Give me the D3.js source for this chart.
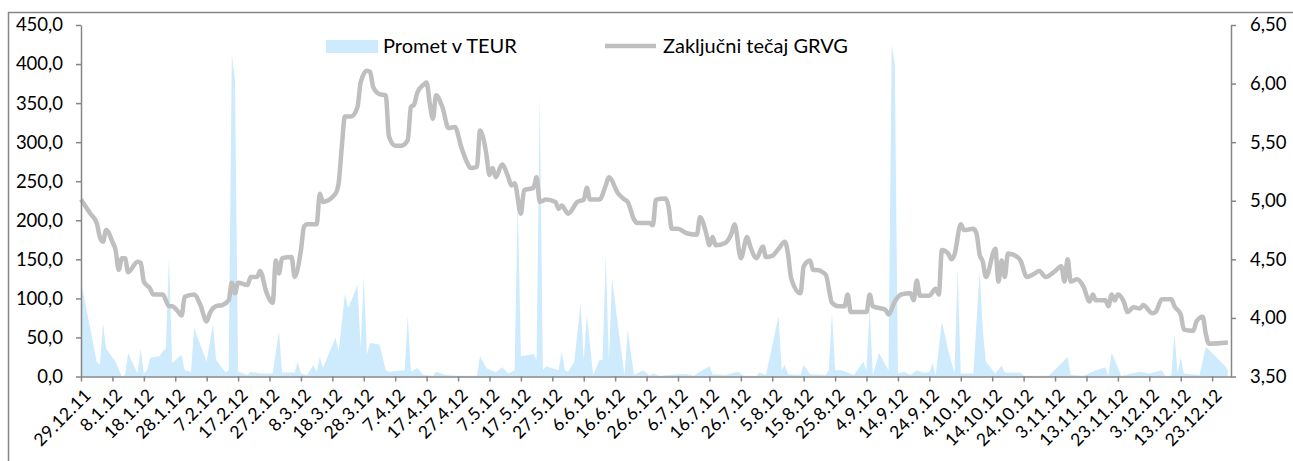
<!DOCTYPE html>
<html lang="en">
<head>
    <meta charset="UTF-8">
    <title>GRVG</title>
    <script src="https://d3js.org/d3.v7.min.js"></script>
    <style>
        body { margin: 0; background: #fff; }
        text { font-family: Lato, "Open Sans", sans-serif; fill: #000; }
    </style>
</head>
<body>
<div id="chart"></div>
<script>
    // closing price (right axis)
    var tecajDates = [
        "2011-12-29","2012-01-01","2012-01-03","2012-01-04","2012-01-05","2012-01-06","2012-01-08","2012-01-09",
        "2012-01-10","2012-01-11","2012-01-12","2012-01-13","2012-01-16","2012-01-17","2012-01-18","2012-01-20",
        "2012-01-21","2012-01-24","2012-01-26","2012-01-27","2012-01-29","2012-01-30","2012-01-31","2012-02-03",
        "2012-02-05","2012-02-07","2012-02-08","2012-02-10","2012-02-12","2012-02-14","2012-02-15","2012-02-16",
        "2012-02-17","2012-02-20","2012-02-21","2012-02-23","2012-02-24","2012-02-26","2012-02-28","2012-02-29",
        "2012-03-01","2012-03-02","2012-03-05","2012-03-06","2012-03-08","2012-03-09","2012-03-10","2012-03-13",
        "2012-03-14","2012-03-15","2012-03-19","2012-03-20","2012-03-21","2012-03-22","2012-03-24","2012-03-26",
        "2012-03-27","2012-03-29","2012-03-30","2012-03-31","2012-04-02","2012-04-04","2012-04-05","2012-04-07",
        "2012-04-09","2012-04-11","2012-04-12","2012-04-13","2012-04-14","2012-04-16","2012-04-17","2012-04-18",
        "2012-04-19","2012-04-20","2012-04-22","2012-04-24","2012-04-26","2012-04-28","2012-04-30","2012-05-01",
        "2012-05-03","2012-05-04","2012-05-06","2012-05-07","2012-05-08","2012-05-09","2012-05-11","2012-05-13",
        "2012-05-14","2012-05-15","2012-05-17","2012-05-18","2012-05-21","2012-05-22","2012-05-23","2012-05-25",
        "2012-05-28","2012-05-29","2012-05-30","2012-06-01","2012-06-04","2012-06-06","2012-06-07","2012-06-08",
        "2012-06-11","2012-06-13","2012-06-14","2012-06-17","2012-06-19","2012-06-20","2012-06-22","2012-06-23",
        "2012-06-27","2012-06-28","2012-06-29","2012-07-02","2012-07-03","2012-07-04","2012-07-06","2012-07-09",
        "2012-07-12","2012-07-13","2012-07-15","2012-07-16","2012-07-17","2012-07-18","2012-07-21","2012-07-23",
        "2012-07-24","2012-07-26","2012-07-28","2012-07-29","2012-07-31","2012-08-02","2012-08-03","2012-08-05",
        "2012-08-07","2012-08-09","2012-08-10","2012-08-11","2012-08-14","2012-08-15","2012-08-17","2012-08-18",
        "2012-08-19","2012-08-22","2012-08-24","2012-08-26","2012-08-28","2012-08-29","2012-08-30","2012-09-04",
        "2012-09-05","2012-09-06","2012-09-10","2012-09-11","2012-09-13","2012-09-15","2012-09-18","2012-09-19",
        "2012-09-20","2012-09-21","2012-09-24","2012-09-26","2012-09-27","2012-09-28","2012-09-30","2012-10-01",
        "2012-10-02","2012-10-04","2012-10-05","2012-10-08","2012-10-09","2012-10-10","2012-10-11","2012-10-12",
        "2012-10-15","2012-10-16","2012-10-17","2012-10-18","2012-10-19","2012-10-22","2012-10-23","2012-10-25",
        "2012-10-27","2012-10-29","2012-10-31","2012-11-03","2012-11-05","2012-11-06","2012-11-07","2012-11-08",
        "2012-11-10","2012-11-12","2012-11-14","2012-11-15","2012-11-16","2012-11-19","2012-11-20","2012-11-21",
        "2012-11-22","2012-11-23","2012-11-25","2012-11-26","2012-11-28","2012-11-30","2012-12-01","2012-12-04",
        "2012-12-05","2012-12-07","2012-12-10","2012-12-11","2012-12-13","2012-12-14","2012-12-17","2012-12-18",
        "2012-12-20","2012-12-21","2012-12-22","2012-12-28"
    ];
    var tecajValues = [
        5.01,4.89,4.81,4.69,4.65,4.75,4.65,4.58,
        4.41,4.51,4.51,4.39,4.48,4.47,4.31,4.25,
        4.20,4.20,4.10,4.10,4.05,4.02,4.18,4.20,
        4.11,3.97,4.04,4.10,4.11,4.15,4.30,4.21,
        4.30,4.28,4.35,4.35,4.40,4.22,4.13,4.49,
        4.38,4.51,4.52,4.35,4.58,4.78,4.80,4.80,
        5.06,4.99,5.06,5.15,5.46,5.72,5.72,5.80,
        6.01,6.11,6.10,5.97,5.91,5.90,5.55,5.47,
        5.47,5.52,5.80,5.82,5.92,5.99,6.01,5.83,
        5.70,5.90,5.80,5.62,5.63,5.46,5.32,5.28,
        5.29,5.60,5.40,5.22,5.28,5.20,5.31,5.20,
        5.13,5.15,4.89,5.09,5.11,5.20,4.99,5.01,
        4.99,4.93,4.96,4.89,4.99,5.01,5.11,5.01,
        5.01,5.13,5.20,5.06,5.01,4.99,4.84,4.81,
        4.81,4.79,5.01,5.02,4.95,4.76,4.76,4.72,
        4.71,4.86,4.72,4.62,4.69,4.62,4.64,4.72,
        4.80,4.51,4.69,4.61,4.51,4.61,4.52,4.53,
        4.59,4.65,4.55,4.34,4.21,4.44,4.49,4.41,
        4.41,4.37,4.13,4.10,4.10,4.20,4.05,4.05,
        4.20,4.10,4.07,4.03,4.14,4.20,4.21,4.15,
        4.32,4.19,4.19,4.25,4.20,4.58,4.55,4.50,
        4.54,4.80,4.75,4.76,4.72,4.54,4.48,4.35,
        4.59,4.31,4.49,4.35,4.55,4.52,4.49,4.35,
        4.37,4.40,4.35,4.40,4.44,4.31,4.50,4.31,
        4.33,4.27,4.14,4.20,4.15,4.15,4.10,4.20,
        4.15,4.20,4.13,4.05,4.09,4.08,4.11,4.04,
        4.05,4.16,4.16,4.10,4.03,3.90,3.89,3.97,
        4.01,3.86,3.78,3.79
    ];

    // turnover in TEUR (left axis)
    var prometDates = [
        "2011-12-29","2012-01-03","2012-01-04","2012-01-05","2012-01-06","2012-01-09","2012-01-11","2012-01-12",
        "2012-01-13","2012-01-16","2012-01-17","2012-01-18","2012-01-19","2012-01-20","2012-01-23","2012-01-24",
        "2012-01-25","2012-01-26","2012-01-27","2012-01-30","2012-01-31","2012-02-02","2012-02-03","2012-02-07",
        "2012-02-09","2012-02-10","2012-02-13","2012-02-14","2012-02-15","2012-02-16","2012-02-17","2012-02-20",
        "2012-02-21","2012-02-24","2012-02-28","2012-03-01","2012-03-02","2012-03-06","2012-03-07","2012-03-08",
        "2012-03-10","2012-03-12","2012-03-13","2012-03-14","2012-03-15","2012-03-19","2012-03-20","2012-03-22",
        "2012-03-23","2012-03-26","2012-03-27","2012-03-28","2012-03-29","2012-03-30","2012-04-02","2012-04-04",
        "2012-04-05","2012-04-10","2012-04-11","2012-04-12","2012-04-14","2012-04-16","2012-04-19","2012-04-20",
        "2012-04-23","2012-04-27","2012-05-03","2012-05-04","2012-05-06","2012-05-09","2012-05-11","2012-05-13",
        "2012-05-15","2012-05-16","2012-05-17","2012-05-20","2012-05-21","2012-05-22","2012-05-23","2012-05-24",
        "2012-05-25","2012-05-29","2012-05-30","2012-05-31","2012-06-01","2012-06-03","2012-06-05","2012-06-06",
        "2012-06-07","2012-06-09","2012-06-11","2012-06-12","2012-06-13","2012-06-14","2012-06-15","2012-06-18",
        "2012-06-19","2012-06-20","2012-06-22","2012-06-25","2012-06-27","2012-06-28","2012-06-30","2012-07-03",
        "2012-07-06","2012-07-09","2012-07-11","2012-07-13","2012-07-16","2012-07-17","2012-07-21","2012-07-25",
        "2012-07-27","2012-07-31","2012-08-01","2012-08-03","2012-08-07","2012-08-08","2012-08-09","2012-08-10",
        "2012-08-14","2012-08-15","2012-08-17","2012-08-22","2012-08-23","2012-08-24","2012-08-25","2012-08-27",
        "2012-08-31","2012-09-03","2012-09-04","2012-09-05","2012-09-06","2012-09-08","2012-09-11","2012-09-12",
        "2012-09-13","2012-09-14","2012-09-16","2012-09-18","2012-09-20","2012-09-22","2012-09-24","2012-09-25",
        "2012-09-26","2012-09-28","2012-09-30","2012-10-02","2012-10-03","2012-10-04","2012-10-08","2012-10-10",
        "2012-10-11","2012-10-12","2012-10-15","2012-10-17","2012-10-18","2012-10-23","2012-10-24","2012-11-01",
        "2012-11-07","2012-11-08","2012-11-12","2012-11-16","2012-11-19","2012-11-20","2012-11-21","2012-11-22",
        "2012-11-24","2012-11-30","2012-12-03","2012-12-07","2012-12-08","2012-12-10","2012-12-11","2012-12-12",
        "2012-12-13","2012-12-14","2012-12-19","2012-12-21","2012-12-27","2012-12-28"
    ];
    var prometValues = [
        122,19,15,68,36,19,0,2,
        30,4,36,4,8,24,26,32,
        36,153,17,28,8,6,62,19,
        68,21,5,8,412,380,6,2,
        6,4,4,58,5,5,19,4,
        2,15,6,25,11,50,32,106,
        87,117,36,128,28,43,41,8,
        6,8,77,6,11,2,1,6,
        2,1,1,26,11,5,12,4,
        8,225,26,28,29,21,360,8,
        13,8,32,8,6,19,94,21,
        79,2,21,21,156,19,126,30,
        2,60,2,8,1,4,1,2,
        3,3,1,6,13,3,2,6,
        1,1,5,2,77,8,15,3,
        2,15,3,2,8,83,8,8,
        2,19,8,88,2,30,8,425,
        400,4,6,2,8,5,5,17,
        2,70,34,4,138,4,4,135,
        60,19,4,14,5,5,1,1,
        25,2,1,8,12,1,30,21,
        1,6,4,8,1,1,55,4,
        25,4,2,38,14,8
    ];

    var leftTicks = [0, 50, 100, 150, 200, 250, 300, 350, 400, 450];
    var rightTicks = [3.5, 4.0, 4.5, 5.0, 5.5, 6.0, 6.5];
    var legendLabels = ["Promet v TEUR", "Zaključni tečaj GRVG"];

    var W = 1293, H = 461;
    var margin = {top: 25, right: 62, bottom: 84.5, left: 81};
    var width = W - margin.left - margin.right,
        height = H - margin.top - margin.bottom;

    var parse = d3.timeParse("%Y-%m-%d");
    var loc = d3.formatLocale({decimal: ",", thousands: ".", grouping: [3], currency: ["", " €"]});
    var fmt1 = loc.format(".1f"), fmt2 = loc.format(".2f");
    var dateFmt = d3.timeFormat("%-d.%-m.%y");

    var tecaj = tecajDates.map(function(d, i) { return {date: parse(d), v: tecajValues[i]}; });
    var promet = prometDates.map(function(d, i) { return {date: parse(d), v: prometValues[i]}; });

    var x = d3.scaleTime()
        .domain([parse("2011-12-29"), parse("2012-12-29")])
        .range([0, width]);
    var yL = d3.scaleLinear().domain([0, 450]).range([height, 0]);
    var yR = d3.scaleLinear().domain([3.5, 6.5]).range([height, 0]);

    var svg = d3.select("#chart").append("svg")
        .attr("width", W)
        .attr("height", H);

    // outer frame
    svg.append("rect")
        .attr("x", 8.5).attr("y", 12.5)
        .attr("width", W + 20).attr("height", H + 20)
        .attr("fill", "none")
        .attr("stroke", "#868686")
        .attr("stroke-width", 1.5);

    var g = svg.append("g")
        .attr("transform", "translate(" + margin.left + "," + margin.top + ")");

    // turnover area
    var area = d3.area()
        .x(function(d) { return x(d.date); })
        .y0(height)
        .y1(function(d) { return yL(d.v); });
    g.append("path")
        .datum(promet)
        .attr("d", area)
        .attr("fill", "#cdebfc");

    // price line (smoothed like the original)
    var line = d3.line()
        .x(function(d) { return x(d.date); })
        .y(function(d) { return yR(d.v); })
        .curve(d3.curveMonotoneX);
    g.append("path")
        .datum(tecaj)
        .attr("d", line)
        .attr("fill", "none")
        .attr("stroke", "#bfbfbf")
        .attr("stroke-width", 4.5)
        .attr("stroke-linejoin", "round");

    // x axis: a tick every 10 days
    var xTicks = d3.timeDay.range(parse("2011-12-29"), parse("2012-12-24"), 1)
        .filter(function(d, i) { return i % 10 === 0; });
    var xAxis = g.append("g")
        .attr("transform", "translate(0," + height + ")")
        .call(d3.axisBottom(x).tickValues(xTicks).tickFormat(dateFmt).tickSize(5).tickSizeOuter(0));
    xAxis.selectAll("text")
        .attr("font-size", 17.5)
        .attr("letter-spacing", 0.4)
        .attr("text-anchor", "end")
        .attr("dx", 0)
        .attr("dy", 0)
        .attr("transform", "translate(5,14) rotate(-45)");

    var yAxisL = g.append("g")
        .call(d3.axisLeft(yL).tickValues(leftTicks).tickFormat(fmt1).tickSize(5).tickSizeOuter(0));
    yAxisL.selectAll("text").attr("font-size", 18.5).attr("x", -18);

    var yAxisR = g.append("g")
        .attr("transform", "translate(" + width + ",0)")
        .call(d3.axisRight(yR).tickValues(rightTicks).tickFormat(fmt2).tickSize(5).tickSizeOuter(0));
    yAxisR.selectAll("text").attr("font-size", 18.5).attr("x", 19);

    svg.selectAll(".domain, .tick line")
        .attr("stroke", "#868686")
        .attr("stroke-width", 1.5);
    svg.selectAll(".tick text").style("fill", "#000").attr("font-family", "Lato, sans-serif");

    // legend
    var leg = svg.append("g");
    leg.append("rect")
        .attr("x", 326).attr("y", 40)
        .attr("width", 52).attr("height", 13)
        .attr("fill", "#cdebfc");
    leg.append("text")
        .attr("x", 383).attr("y", 53)
        .attr("font-size", 20)
        .text(legendLabels[0]);
    leg.append("line")
        .attr("x1", 605).attr("x2", 656)
        .attr("y1", 46).attr("y2", 46)
        .attr("stroke", "#bfbfbf")
        .attr("stroke-width", 4.5);
    leg.append("text")
        .attr("x", 663).attr("y", 53)
        .attr("font-size", 20)
        .text(legendLabels[1]);
</script>
</body>
</html>
